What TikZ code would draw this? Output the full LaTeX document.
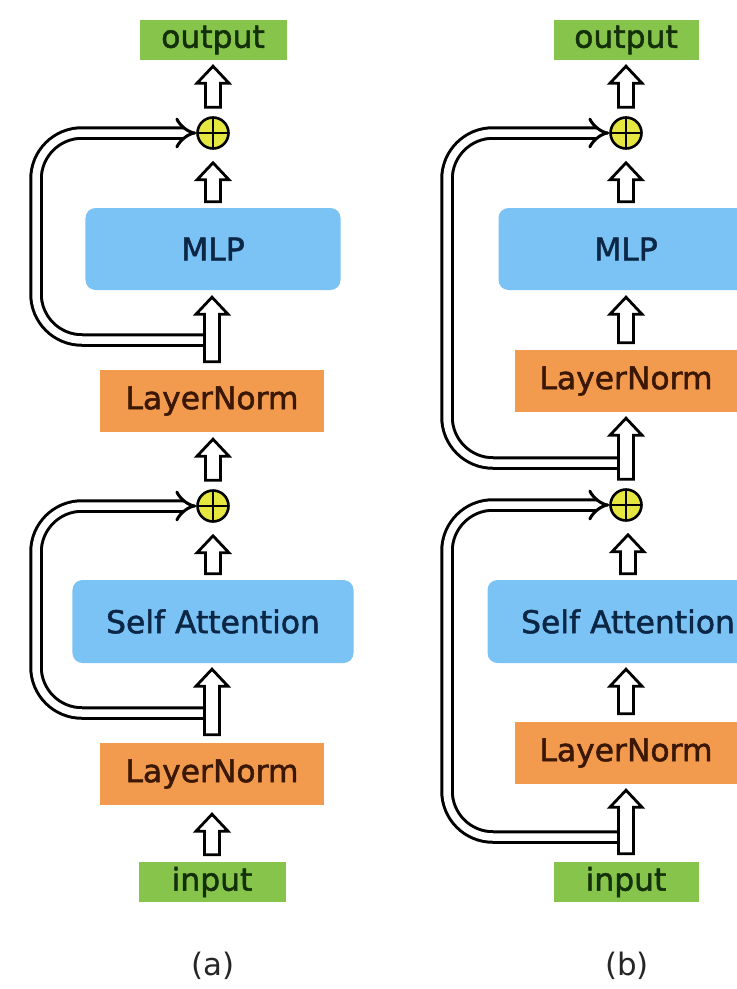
\documentclass[tikz,border=0pt]{standalone}
\usepackage{fontspec}
\setmainfont{DejaVu Sans}[FakeBold=1.6]
\newfontfamily\labelfont{DejaVu Sans}[AutoFakeBold=1.6]
\usetikzlibrary{arrows.meta,calc}

\definecolor{iogreen}{HTML}{86C44C}
\definecolor{iotext}{HTML}{14300A}
\definecolor{normorange}{HTML}{F29A4E}
\definecolor{normtext}{HTML}{3A1805}
\definecolor{blockblue}{HTML}{7BC2F5}
\definecolor{blocktext}{HTML}{0C2745}
\definecolor{addyellow}{HTML}{E6E640}

% hollow up-arrow from coordinate #1 (bottom) to coordinate #2 (top);
% #3 = gap above the lower end, #4 = gap below the upper end
\newcommand\fatarrowup[4]{%
  \path[fatarrow] let \p1=(#1), \p2=(#2) in
    (\x1-7.5bp,\y1+#3) -- (\x1-7.5bp,\y2-#4-17bp) -- (\x1-16bp,\y2-#4-17bp)
    -- (\x1,\y2-#4) -- (\x1+16bp,\y2-#4-17bp) -- (\x1+7.5bp,\y2-#4-17bp)
    -- (\x1+7.5bp,\y1+#3) -- cycle;}

\begin{document}
\begin{tikzpicture}[x=1bp,y=-1bp,
  every node/.style={font=\labelfont\bfseries\fontsize{31.5}{36}\selectfont, inner sep=0pt},
  iobox/.style={fill=iogreen, text=iotext, minimum width=147bp, minimum height=40bp},
  normbox/.style={fill=normorange, text=normtext, minimum width=223bp, minimum height=62bp},
  blockbox/.style={fill=blockblue, text=blocktext, rounded corners=10bp, minimum height=82bp},
  addnode/.style={circle, draw=black, line width=2.6bp, fill=addyellow, minimum size=31bp,
    path picture={\draw[line width=2bp]
      (path picture bounding box.north) -- (path picture bounding box.south)
      (path picture bounding box.west) -- (path picture bounding box.east);}},
  skipline/.style={line width=3bp, double=white, double distance=7.5bp,
    rounded corners=46bp, -{Implies}},
  fatarrow/.style={draw=black, fill=white, line width=2.8bp, line join=miter},
  caption/.style={font=\labelfont\fontsize{31}{34}\selectfont, text=black!85},
]
\useasboundingbox (0,0) rectangle (737,989);
\clip (0,0) rectangle (737,989);
\fill[white] (0,0) rectangle (737,989);

% ---------- (a): LayerNorm inside the residual branch ----------
\node[iobox]    (outA)  at (213,40)    {output};
\node[addnode]  (addA2) at (213,133)   {};
\node[blockbox, minimum width=255bp] (mlpA) at (213,249) {MLP};
\node[normbox]  (lnA2)  at (212,401)   {LayerNorm};
\node[addnode]  (addA1) at (213,506)   {};
\node[blockbox, minimum width=281bp, minimum height=83bp] (saA) at (213,621.5) {Self Attention};
\node[normbox]  (lnA1)  at (212,774)   {LayerNorm};
\node[iobox]    (inA)   at (212,882)   {input};
\node[caption]  (capA)  at (213,966)   {(a)};

\coordinate (jA2) at (213,340);
\coordinate (kA2) at (36,133);
\coordinate (jA1) at (213,713);
\coordinate (kA1) at (36,506);

\draw[skipline] (jA2) -| (kA2) -- (addA2.west);
\draw[skipline] (jA1) -| (kA1) -- (addA1.west);

\fatarrowup{inA.north}{lnA1.south}{7bp}{9bp}
\fatarrowup{lnA1.north}{saA.south}{8bp}{6bp}
\fatarrowup{saA.north}{addA1.south}{6bp}{13bp}
\fatarrowup{addA1.north}{lnA2.south}{9bp}{7bp}
\fatarrowup{lnA2.north}{mlpA.south}{8bp}{7bp}
\fatarrowup{mlpA.north}{addA2.south}{6bp}{13bp}
\fatarrowup{addA2.north}{outA.south}{9bp}{6bp}

% ---------- (b): LayerNorm on the main path ----------
\node[iobox, minimum width=145bp] (outB) at (626,40) {output};
\node[addnode]  (addB2) at (626,133)   {};
\node[blockbox, minimum width=255bp] (mlpB) at (626,249) {MLP};
\node[normbox]  (lnB2)  at (626,381)   {LayerNorm};
\node[addnode]  (addB1) at (626,505)   {};
\node[blockbox, minimum width=281bp, minimum height=83bp] (saB) at (628,621.5) {Self Attention};
\node[normbox]  (lnB1)  at (626,753)   {LayerNorm};
\node[iobox, minimum width=145bp] (inB) at (626,882) {input};
\node[caption]  (capB)  at (627,966)   {(b)};

\coordinate (jB2) at (626,463);
\coordinate (kB2) at (447,133);
\coordinate (jB1) at (626,837);
\coordinate (kB1) at (447,505);

\draw[skipline] (jB2) -| (kB2) -- (addB2.west);
\draw[skipline] (jB1) -| (kB1) -- (addB1.west);

\fatarrowup{inB.north}{lnB1.south}{8bp}{6bp}
\fatarrowup{lnB1.north}{saB.south}{8bp}{6bp}
\fatarrowup{saB.north}{addB1.south}{6bp}{13bp}
\fatarrowup{addB1.north}{lnB2.south}{9bp}{6bp}
\fatarrowup{lnB2.north}{mlpB.south}{7bp}{7bp}
\fatarrowup{mlpB.north}{addB2.south}{6bp}{13bp}
\fatarrowup{addB2.north}{outB.south}{9bp}{6bp}
\end{tikzpicture}
\end{document}
